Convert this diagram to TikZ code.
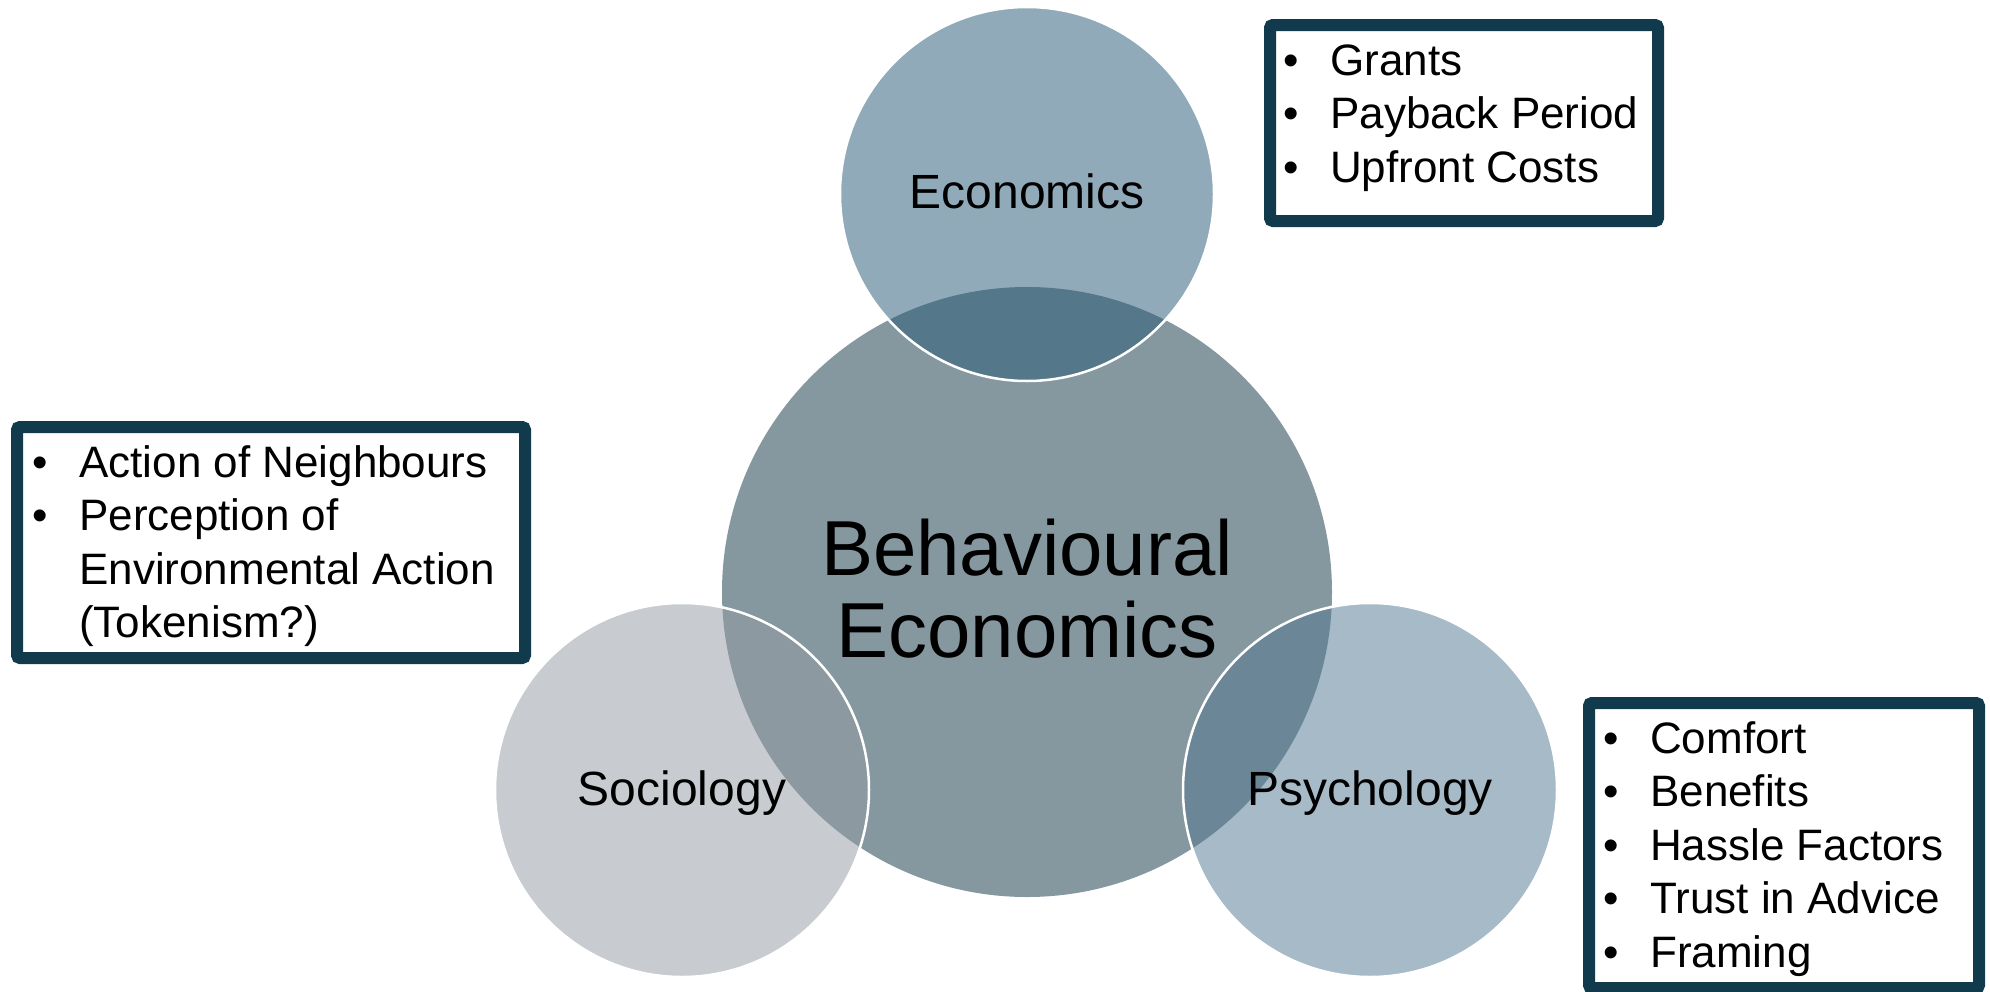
\documentclass[tikz,border=0pt]{standalone}
\usepackage{fontspec}
\setmainfont{Liberation Sans}
\definecolor{corefill}{RGB}{133,152,159}
\definecolor{econfill}{RGB}{37,87,117}
\definecolor{sociofill}{RGB}{147,155,163}
\definecolor{psychfill}{RGB}{80,118,145}
\definecolor{boxline}{RGB}{18,58,77}
\newcommand{\bitem}{\makebox[47pt][l]{•}}
\newcommand{\bcont}{\hspace*{47pt}}
\begin{document}
\begin{tikzpicture}[x=1pt,y=-1pt,
  corecircle/.style={circle, fill=corefill, minimum size=610pt, inner sep=0pt},
  venn/.style={circle, fill opacity=0.5, draw=white, draw opacity=1, line width=2.5pt, minimum size=374pt, inner sep=0pt},
  venntext/.style={anchor=base, inner sep=0pt, font=\fontsize{48}{56}\selectfont},
  infobox/.style={rectangle, draw=boxline, fill=white, line width=12pt, rounded corners=3pt, inner sep=0pt},
  listtext/.style={anchor=north west, inner sep=0pt, align=left, font=\fontsize{44}{53.5}\selectfont}]
\useasboundingbox (0,0) rectangle (1990,991);
\fill[white] (0,0) rectangle (1990,991);

% central circle and the three overlapping discipline circles
\node[corecircle] (core) at (1027,592) {};
\node[venn, fill=econfill] (econ) at (1027,194) {};
\node[venn, fill=sociofill] (socio) at (682,790) {};
\node[venn, fill=psychfill] (psych) at (1370,790) {};

% circle labels
\node[anchor=north, inner sep=0pt, align=center, font=\fontsize{78}{80}\selectfont] (coretext) at (1027,519) {\strut Behavioural\\Economics};
\node[venntext] (econtext) at (1027,208) {Economics};
\node[venntext] (sociotext) at (682,805) {Sociology};
\node[venntext] (psychtext) at (1370,805) {Psychology};

% factor boxes
\node[infobox, minimum width=388pt, minimum height=196pt] (econbox) at (1464,123) {};
\node[infobox, minimum width=508pt, minimum height=231pt] (sociobox) at (271,542.5) {};
\node[infobox, minimum width=390pt, minimum height=285pt] (psychbox) at (1784,845.5) {};

\node[listtext] (econlist) at (1283,37.5) {\strut\bitem Grants\\\bitem Payback Period\\\bitem Upfront Costs};
\node[listtext] (sociolist) at (32,439.5) {\strut\bitem Action of Neighbours\\\bitem Perception of\\\bcont Environmental Action\\\bcont (Tokenism?)};
\node[listtext] (psychlist) at (1603,715.5) {\strut\bitem Comfort\\\bitem Benefits\\\bitem Hassle Factors\\\bitem Trust in Advice\\\bitem Framing};
\end{tikzpicture}
\end{document}
